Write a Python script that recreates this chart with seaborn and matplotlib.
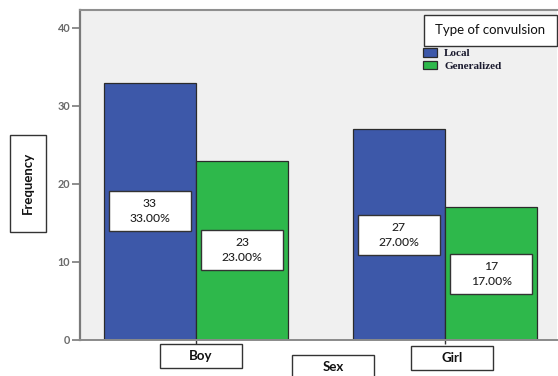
import numpy as np
import pandas as pd
import matplotlib
matplotlib.use("Agg")
import matplotlib.pyplot as plt
from matplotlib.patches import Rectangle
from matplotlib.transforms import blended_transform_factory
import seaborn as sns

# Counts of convulsion type by sex
sexes = ["Boy", "Girl"]
convulsion_types = ["Local", "Generalized"]
local_counts = [33, 27]
generalized_counts = [23, 17]
type_colors = ["#3D58A9", "#2EB84B"]

df = pd.DataFrame({
    "Sex": sexes * 2,
    "Type": [convulsion_types[0]] * 2 + [convulsion_types[1]] * 2,
    "Count": local_counts + generalized_counts,
})
total = df["Count"].sum()

sns.set_theme(style="white")
plt.rcParams["font.family"] = ["Lato", "DejaVu Sans"]

W, H = 558, 376
fig = plt.figure(figsize=(W / 100, H / 100), dpi=100)
fig.patch.set_facecolor("white")


def fx(x):
    return x / W


def fy(y):
    return 1 - y / H


ax = fig.add_axes([fx(80), fy(340), (557 - 80) / W, (340 - 10) / H])
ax.set_facecolor("#F0F0F0")

sns.barplot(data=df, x="Sex", y="Count", hue="Type", order=sexes,
            hue_order=convulsion_types, palette=type_colors, width=0.74,
            saturation=1, edgecolor="#2b2b2b", linewidth=0.9, ax=ax)

handles, labels = ax.get_legend_handles_labels()
if ax.get_legend() is not None:
    ax.get_legend().remove()

ax.set_xlim(-0.466, 1.45)
ax.set_ylim(0, 42.3)
ax.set_xlabel("")
ax.set_ylabel("")

# Axis frame
ax.spines["right"].set_visible(False)
ax.spines["left"].set_color("#7a7a7a")
ax.spines["left"].set_linewidth(1.6)
ax.spines["top"].set_color("#8f8f8f")
ax.spines["top"].set_linewidth(1.5)
ax.spines["bottom"].set_color("#8a8a8a")
ax.spines["bottom"].set_linewidth(1.4)

ax.set_yticks([0, 10, 20, 30, 40])
ax.set_yticklabels(["0", "10", "20", "30", "40"], fontsize=7.8, fontweight="bold",
                   color="#6a6a6a")
ax.tick_params(axis="y", direction="out", length=6, width=1.2, color="#7a7a7a",
               pad=1, left=True)
ax.set_xticks([0, 1])
ax.set_xticklabels(["", ""])
ax.tick_params(axis="x", direction="out", length=3, width=1.0, color="#333333",
               bottom=True)

# Value boxes at mid-height of each bar
box_w = 0.329
box_h = 5.13
for container in ax.containers:
    for bar in container:
        h = bar.get_height()
        cx = bar.get_x() + bar.get_width() / 2
        ax.add_patch(Rectangle((cx - box_w / 2, h / 2 - box_h / 2), box_w, box_h,
                               facecolor="white", edgecolor="#333333",
                               linewidth=1.0, zorder=5))
        ax.text(cx, h / 2, f"{h:.0f}\n{h / total * 100:.2f}%", ha="center",
                va="center", fontsize=8.7, fontweight="medium", color="#222222",
                linespacing=1.45, zorder=6)

# Category label boxes under the axis
bt = blended_transform_factory(ax.transData, ax.transAxes)
cat_offsets = [(-0.145, -0.012), (-0.137, -0.018)]
for i, name in enumerate(sexes):
    dx, top = cat_offsets[i]
    ax.add_patch(Rectangle((i + dx, top - 0.073), 0.33, 0.073, transform=bt,
                           facecolor="white", edgecolor="#333333", linewidth=1.0,
                           clip_on=False, zorder=5))
    ax.text(i + dx + 0.165, top - 0.0365, name, transform=bt, ha="center",
            va="center", fontsize=9.5, fontweight="bold", color="#111111",
            zorder=6)

# Axis titles in boxes
fig.patches.append(Rectangle((fx(292), fy(380)), (374 - 292) / W, (380 - 355) / H,
                             transform=fig.transFigure, facecolor="white",
                             edgecolor="#333333", linewidth=1.0))
fig.text(fx(333), fy(367), "Sex", ha="center", va="center", fontsize=9.5,
         fontweight="bold", color="#111111")

fig.patches.append(Rectangle((fx(10), fy(232)), (46 - 10) / W, (232 - 135) / H,
                             transform=fig.transFigure, facecolor="white",
                             edgecolor="#333333", linewidth=1.0))
fig.text(fx(28), fy(183), "Frequency", ha="center", va="center", rotation=90,
         fontsize=9.5, fontweight="bold", color="#111111")

# Legend with boxed title
fig.patches.append(Rectangle((fx(424), fy(46)), (557 - 424) / W, (46 - 15) / H,
                             transform=fig.transFigure, facecolor="white",
                             edgecolor="#333333", linewidth=1.0, zorder=3))
fig.text(fx(490), fy(30), "Type of convulsion", ha="center", va="center",
         fontsize=9.5, color="#111111", zorder=4)
ax.legend(handles, labels, loc="upper left", bbox_to_anchor=(fx(423), fy(48)),
          bbox_transform=fig.transFigure, frameon=False,
          prop=dict(family="Liberation Serif", weight="bold", size=8),
          handlelength=1.3, handleheight=0.8, handletextpad=0.6,
          labelspacing=0.25, borderpad=0, borderaxespad=0)
for t in ax.get_legend().get_texts():
    t.set_color("#1a1a2e")

fig.savefig("out.png", dpi=100)
